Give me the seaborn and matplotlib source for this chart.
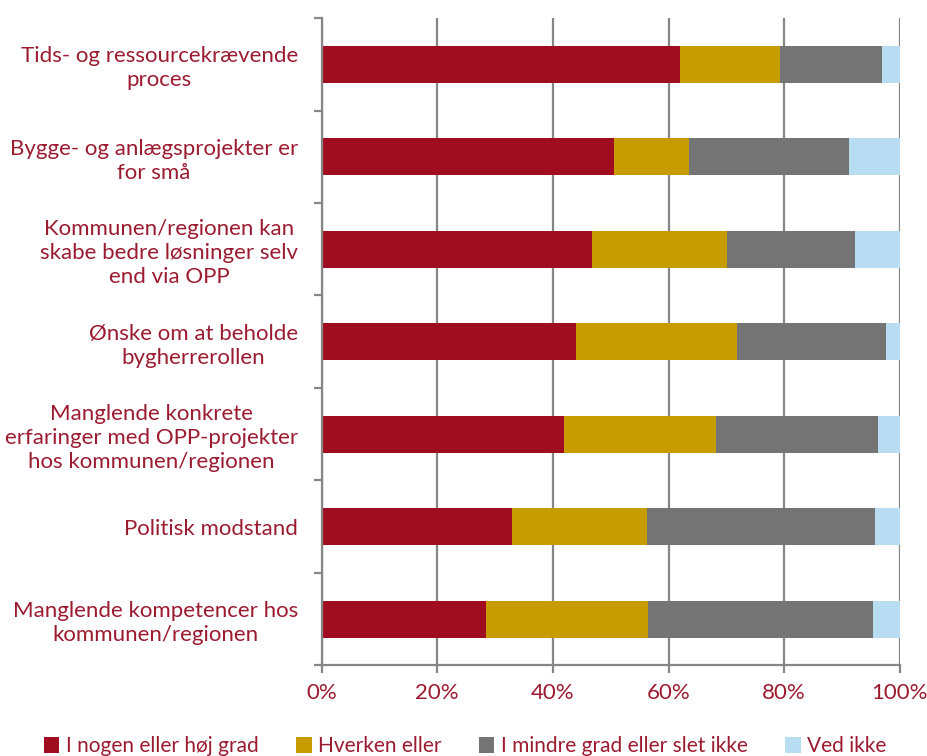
import matplotlib.pyplot as plt
import matplotlib.ticker as mticker
import numpy as np
import pandas as pd
import seaborn as sns

# Data (shares in %)
categories = [
    "Tids- og ressourcekrævende\nproces",
    "Bygge- og anlægsprojekter er\nfor små",
    "Kommunen/regionen kan\nskabe bedre løsninger selv\nend via OPP",
    "Ønske om at beholde\nbygherrerollen",
    "Manglende konkrete\nerfaringer med OPP-projekter\nhos kommunen/regionen",
    "Politisk modstand",
    "Manglende kompetencer hos\nkommunen/regionen",
]
series_names = [
    "I nogen eller høj grad",
    "Hverken eller",
    "I mindre grad eller slet ikke",
    "Ved ikke",
]
hoej_grad = [62.0, 50.6, 46.8, 44.0, 42.0, 32.9, 28.5]
hverken = [17.2, 13.0, 23.4, 27.8, 26.3, 23.3, 27.9]
mindre_grad = [17.7, 27.6, 22.0, 25.9, 27.9, 39.6, 38.9]
ved_ikke = [3.1, 8.8, 7.8, 2.3, 3.8, 4.2, 4.7]

colors = ["#A00D20", "#C79C00", "#747474", "#B8DDF2"]
text_color = "#9B1B30"
axis_color = "#868686"
fs = 16

sns.set_style("white")
plt.rcParams["font.family"] = ["Lato", "DejaVu Sans"]

df = pd.DataFrame(
    {"kategori": categories, series_names[0]: hoej_grad, series_names[1]: hverken,
     series_names[2]: mindre_grad, series_names[3]: ved_ikke}
)
cum = df[series_names].cumsum(axis=1)

fig = plt.figure(figsize=(9.27, 7.56), dpi=100)
ax = fig.add_axes([0.347, 0.120, 0.9706 - 0.347, 0.856])

# stacked bars: draw the cumulative totals from largest to smallest
for name, col in reversed(list(zip(series_names, colors))):
    sns.barplot(data=cum.assign(kategori=df["kategori"]), x=name, y="kategori",
                color=col, width=0.4, orient="h", saturation=1, ax=ax,
                label=name, linewidth=0)

ax.set_xlim(0, 100)
ax.set_ylim(6.5, -0.5)
ax.set_xlabel("")
ax.set_ylabel("")

ax.xaxis.set_major_locator(mticker.MultipleLocator(20))
ax.xaxis.set_major_formatter(mticker.FuncFormatter(lambda v, p: f"{v:.0f}%"))
ax.grid(axis="x", color=axis_color, linewidth=1.6)
ax.set_axisbelow(True)

ax.yaxis.set_minor_locator(mticker.FixedLocator(np.arange(-0.5, 7, 1)))
ax.tick_params(axis="y", which="major", length=0, pad=17, labelsize=fs,
               labelcolor=text_color)
ax.tick_params(axis="y", which="minor", length=6, width=1.6, color=axis_color,
               direction="out", left=True)
ax.tick_params(axis="x", which="major", length=6, width=1.6, color=axis_color,
               direction="out", bottom=True, pad=7, labelsize=fs,
               labelcolor=text_color)
for lab in ax.get_yticklabels():
    lab.set_multialignment("center")
    lab.set_linespacing(1.25)

for side in ["top", "right"]:
    ax.spines[side].set_visible(False)
for side in ["left", "bottom"]:
    ax.spines[side].set_color(axis_color)
    ax.spines[side].set_linewidth(1.6)

handles, labels = ax.get_legend_handles_labels()
order = [labels.index(n) for n in series_names]
leg = fig.legend([handles[i] for i in order], [labels[i] for i in order],
                 loc="center left", bbox_to_anchor=(0.027, 0.013), ncol=4,
                 frameon=False, fontsize=15, handlelength=0.75, handleheight=0.75,
                 handletextpad=0.3, columnspacing=1.8)
for t in leg.get_texts():
    t.set_color(text_color)
if ax.legend_:
    ax.legend_.remove()

fig.savefig("out.png", dpi=100)
